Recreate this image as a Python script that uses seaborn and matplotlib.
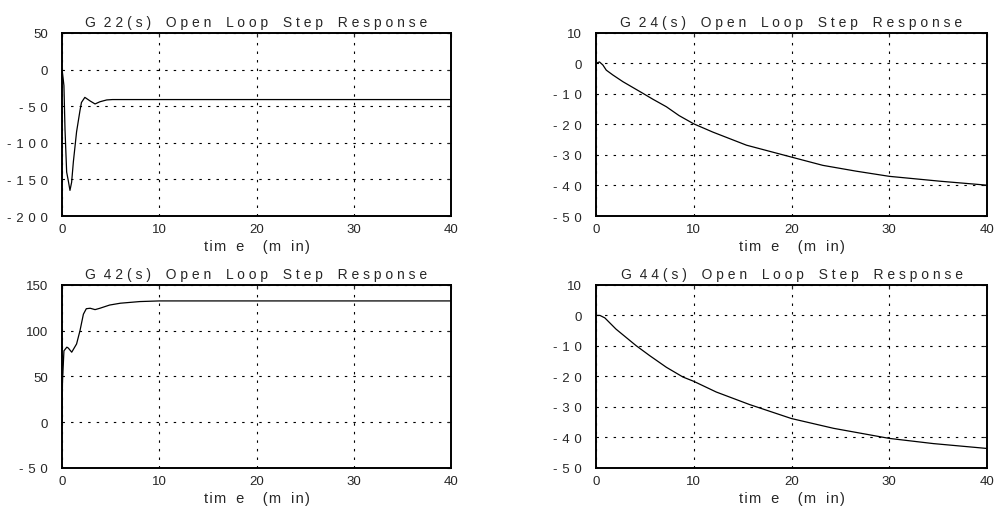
import numpy as np
import pandas as pd
import matplotlib
matplotlib.use('Agg')
import matplotlib.pyplot as plt
import seaborn as sns

# values
t22 = [0, 0.03, 0.2, 0.31, 0.48, 0.65, 0.82, 0.99, 1.17, 1.5, 1.85, 2.0, 2.35, 2.9, 3.4, 3.9, 4.6, 5.2, 40]
g22 = [0, -2, -22, -82, -140, -152, -165, -154, -126, -85, -56, -45, -38, -43, -47, -44, -41.5, -41, -41]

t42 = [0, 0.05, 0.2, 0.5, 0.65, 1.0, 1.5, 1.85, 2.2, 2.5, 2.9, 3.4, 3.9, 4.9, 6.0, 8.0, 10, 40]
g42 = [0, 44, 78, 82, 81, 76.5, 85.5, 100, 118, 124, 124.5, 123, 124.5, 128, 130, 131.8, 132.5, 132.5]

t24 = [0, 0.35, 0.7, 1.05, 1.73, 2.76, 3.78, 4.8, 5.8, 7.2, 8.5, 10, 11.95, 15.4, 20, 23.2, 26.6, 30, 35.2, 40]
g24 = [0, 0.5, -0.5, -2.2, -3.8, -6.0, -7.9, -9.8, -11.7, -14.2, -17.1, -19.8, -22.5, -26.8, -30.7, -33.4, -35.3, -37.0, -38.6, -39.9]

t44 = [0, 0.4, 0.9, 2.05, 4.1, 5.5, 7.2, 8.9, 10, 12.3, 15.7, 20, 24.3, 30, 34.5, 40]
g44 = [0, 0, -0.8, -4.5, -9.9, -13.2, -17.0, -20.2, -21.6, -25.1, -29.2, -33.8, -37.0, -40.3, -42.0, -43.6]

titles = ['G 22(s) Open Loop Step Response',
          'G 24(s) Open Loop Step Response',
          'G 42(s) Open Loop Step Response',
          'G 44(s) Open Loop Step Response']
ylims = [(-200, 50), (-50, 10), (-50, 150), (-50, 10)]
yticks = [[-200, -150, -100, -50, 0, 50],
          [-50, -40, -30, -20, -10, 0, 10],
          [-50, 0, 50, 100, 150],
          [-50, -40, -30, -20, -10, 0, 10]]
xticks = [0, 10, 20, 30, 40]
xlabel = 'tim e  (m in)'

sns.set_style('white')
plt.rcParams['font.family'] = ['Liberation Sans', 'DejaVu Sans']

fig = plt.figure(figsize=(9.95, 5.1), dpi=100)
positions = [[0.0623, 0.5745, 0.391, 0.359],
             [0.599, 0.5745, 0.393, 0.359],
             [0.0623, 0.0804, 0.391, 0.359],
             [0.599, 0.0804, 0.393, 0.359]]
series = [(t22, g22), (t24, g24), (t42, g42), (t44, g44)]


def spaced(s, gap=' '):
    # letter-spaced text like the old matlab print
    return gap.join(s.replace(' ', '\u2002'))


def title_text(s):
    head, rest = s.split(' ', 1)
    return spaced(head) + '  ' + spaced(rest)


def ylab(v):
    s = str(int(v))
    return ' \u200a'.join(s) if v < 0 else s


for pos, (t, g), title, yl, yt in zip(positions, series, titles, ylims, yticks):
    ax = fig.add_axes(pos)
    df = pd.DataFrame({'t': t, 'g': g})
    sns.lineplot(data=df, x='t', y='g', ax=ax, color='black', linewidth=0.9)
    ax.set_xlim(0, 40)
    ax.set_ylim(*yl)
    ax.set_xticks(xticks)
    ax.set_yticks(yt)
    ax.set_yticklabels([ylab(v) for v in yt])
    ax.set_title(title_text(title), fontsize=10, pad=5)
    ax.set_xlabel(spaced(xlabel, '\u200a'), fontsize=10.5, labelpad=3)
    ax.set_ylabel('')
    ax.grid(True, color='black', linestyle=(0, (2.2, 5.5)), linewidth=0.8)
    ax.tick_params(direction='in', top=True, right=True, length=3, labelsize=9.5)
    ax.tick_params(axis='x', pad=5)
    ax.tick_params(axis='y', pad=10)
    for sp in ax.spines.values():
        sp.set_color('black')
        sp.set_linewidth(1.4)

fig.savefig('out.png', dpi=100)
